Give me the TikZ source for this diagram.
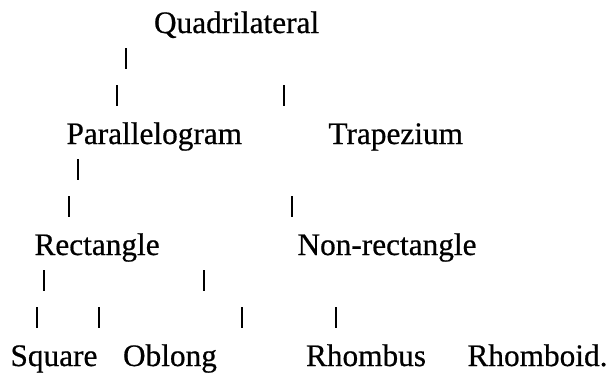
\documentclass[tikz,border=0pt]{standalone}
\usepackage{fontspec}
\setmainfont{Liberation Serif}
\newfontfamily\tnr{Liberation Serif}[FakeBold=0.6]
\begin{document}
\begin{tikzpicture}[x=1pt,y=-1pt,
  lbl/.style={anchor=base west,inner sep=0pt,outer sep=0pt,font=\tnr\fontsize{31.3}{37}\selectfont},
  pipe/.style={line width=2pt,black}]
\useasboundingbox (0,0) rectangle (613,373);
% text rows
\node[lbl] (quad)     at (154,33)   {Quadrilateral};
\node[lbl] (para)     at (66.5,144) {Parallelogram};
\node[lbl] (trap)     at (328.5,144){Trapezium};
\node[lbl] (rect)     at (34.5,255) {Rectangle};
\node[lbl] (nonrect)  at (297.5,255){Non-rectangle};
\node[lbl] (square)   at (10.5,366) {Square};
\node[lbl] (oblong)   at (123,366)  {Oblong};
\node[lbl] (rhombus)  at (306,366)  {Rhombus};
\node[lbl] (rhomboid) at (467.5,366){Rhomboid.};
% vertical bars
\foreach \x/\b in {125.7/70, 116.7/107, 284/107, 77.7/181, 69/218, 291.7/218,
                   44/292, 203.5/292, 36.7/329, 99.3/329, 241.7/329, 336/329}
  \draw[pipe] (\x,\b-22) -- (\x,\b-1);
\end{tikzpicture}
\end{document}
